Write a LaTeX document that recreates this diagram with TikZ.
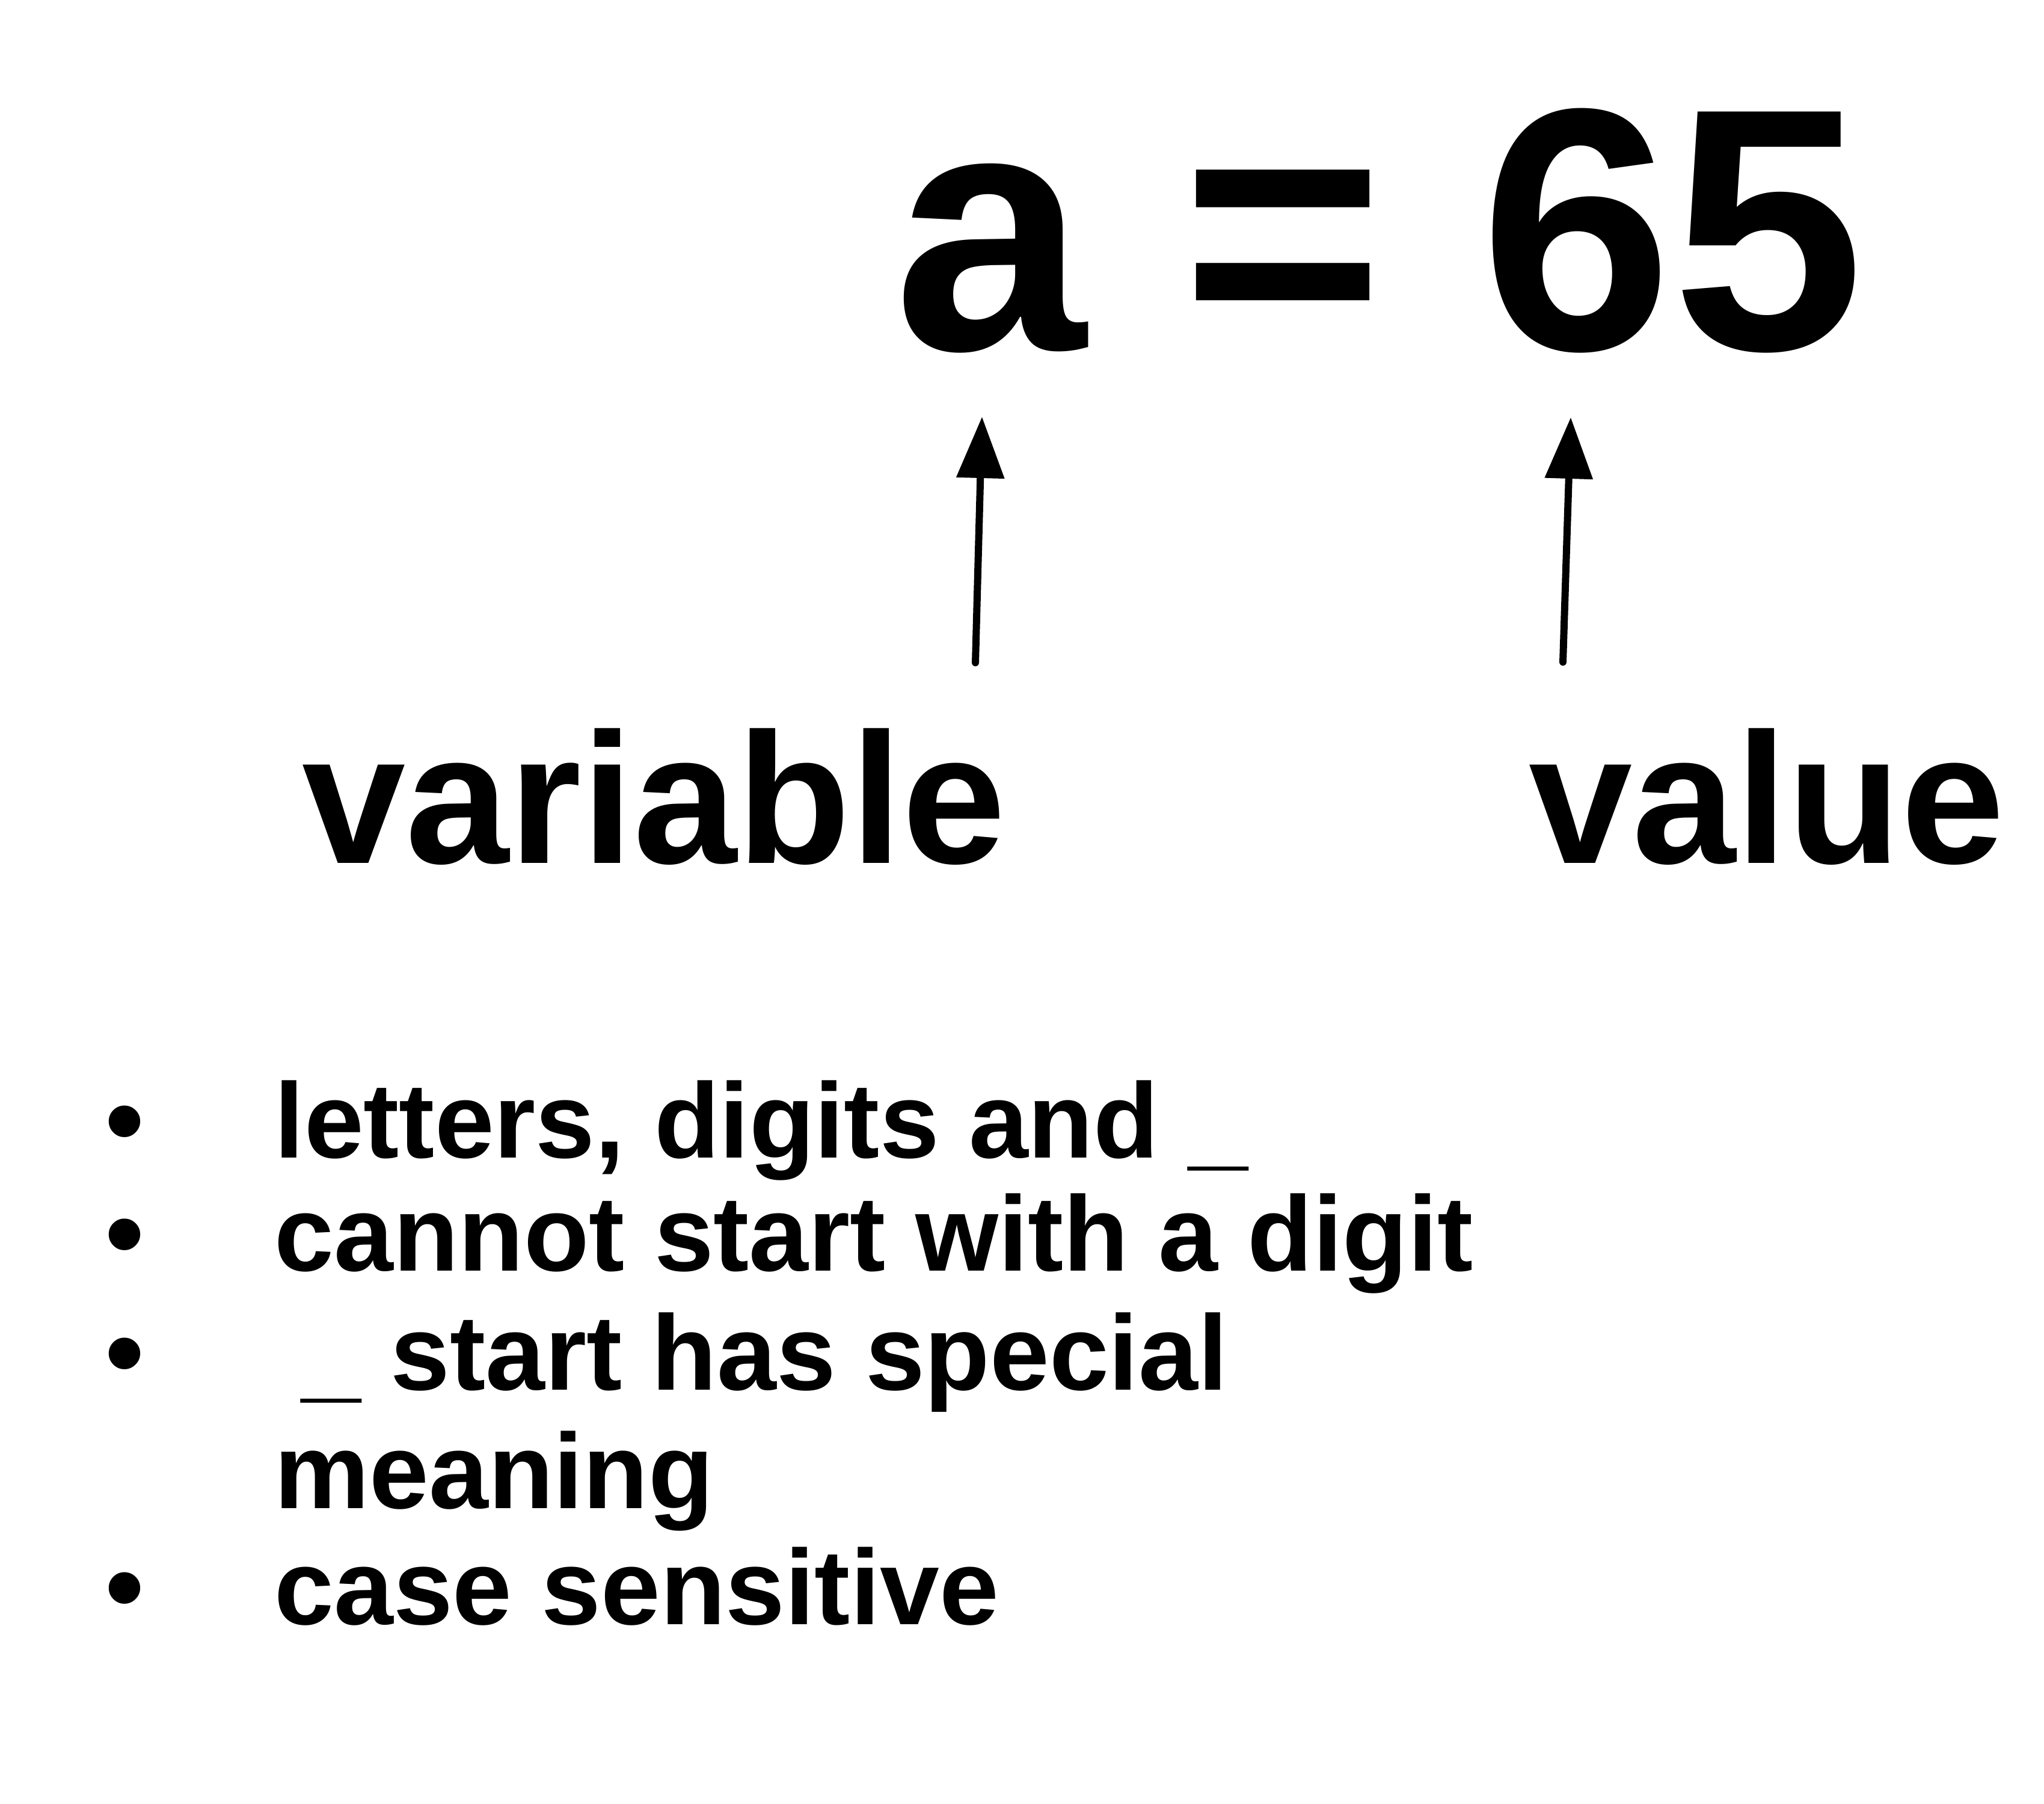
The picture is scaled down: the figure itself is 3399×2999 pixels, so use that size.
\documentclass[tikz,border=0pt]{standalone}
\usepackage{fontspec}
\setmainfont{Liberation Sans}
\usetikzlibrary{arrows.meta}
\begin{document}
\begin{tikzpicture}[x=0.01cm,y=-0.01cm,
  big/.style={font=\fontsize{163.5pt}{163.5pt}\selectfont\bfseries, inner sep=0pt, anchor=base west},
  mid/.style={font=\fontsize{88pt}{88pt}\selectfont\bfseries, inner sep=0pt, anchor=base west},
  small/.style={font=\fontsize{50.5pt}{50.5pt}\selectfont\bfseries, inner sep=0pt, anchor=base west},
  bul/.style={font=\fontsize{52pt}{52pt}\selectfont\bfseries, inner sep=0pt, anchor=base},
  arr/.style={line width=3.4pt, line cap=round, -{Triangle[length=29pt, width=22pt]}}]
\useasboundingbox (0,0) rectangle (3399,2999);
\node[big] (eq) at (1486,581) {a = 65};
\node[mid] (var) at (502,1435) {variable};
\node[mid] (val) at (2542,1435) {value};
\coordinate (v0) at (1622,1102);
\coordinate (v1) at (1633,693);
\coordinate (w0) at (2599,1101);
\coordinate (w1) at (2612,694);
\draw[arr] (v0) -- (v1);
\draw[arr] (w0) -- (w1);
\node[bul] (b1) at (208,1925) {•};
\node[bul] (b2) at (208,2113) {•};
\node[bul] (b3) at (208,2311) {•};
\node[bul] (b4) at (208,2701) {•};
\node[small] (t1) at (456,1925) {letters, digits and \_};
\node[small] (t2) at (456,2113) {cannot start with a digit};
\node[small] (t3) at (501,2311) {\_ start has special};
\node[small] (t3b) at (456,2508) {meaning};
\node[small] (t4) at (456,2701) {case sensitive};
\end{tikzpicture}
\end{document}
